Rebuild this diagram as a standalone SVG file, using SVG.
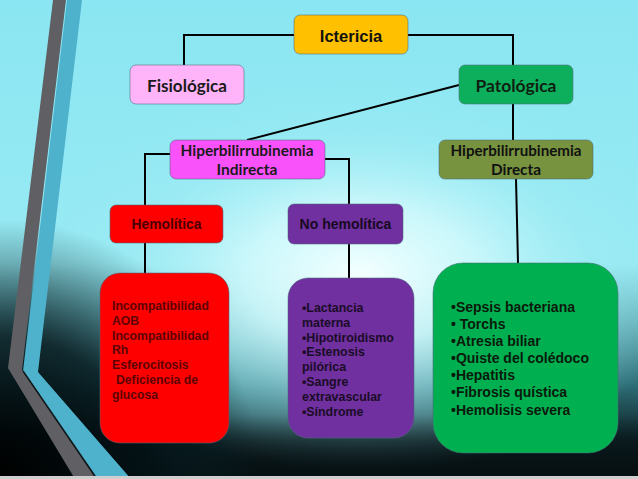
<svg xmlns="http://www.w3.org/2000/svg" width="638" height="479" viewBox="0 0 638 479">
<defs>
<linearGradient id="bg" x1="0" y1="0" x2="0" y2="1">
<stop offset="0" stop-color="#8ae6f2"/>
<stop offset="0.55" stop-color="#98eaf3"/>
<stop offset="0.8" stop-color="#2f7079"/>
<stop offset="0.92" stop-color="#0c1f23"/>
<stop offset="1" stop-color="#060e10"/>
</linearGradient>
<radialGradient id="glow" cx="360" cy="275" r="330" gradientUnits="userSpaceOnUse" gradientTransform="matrix(1 0 0 0.6 0 110)">
<stop offset="0" stop-color="#f4ffff" stop-opacity="1"/>
<stop offset="0.35" stop-color="#d0f9fc" stop-opacity="0.9"/>
<stop offset="0.7" stop-color="#a0ecf4" stop-opacity="0.45"/>
<stop offset="1" stop-color="#98eaf3" stop-opacity="0"/>
</radialGradient>
<radialGradient id="dark" cx="0" cy="479" r="260" gradientUnits="userSpaceOnUse">
<stop offset="0" stop-color="#000000" stop-opacity="1"/>
<stop offset="0.55" stop-color="#021014" stop-opacity="0.8"/>
<stop offset="1" stop-color="#0a2a30" stop-opacity="0"/>
</radialGradient>
<linearGradient id="bot" x1="0" y1="0" x2="0" y2="1">
<stop offset="0" stop-color="#061012" stop-opacity="0"/>
<stop offset="1" stop-color="#061012" stop-opacity="0.85"/>
</linearGradient>
<style>
.box{stroke:#4a6a78;stroke-opacity:0.55;stroke-width:1}
.c{fill:none;stroke:#000;stroke-width:2}
.cal{font-family:Lato,"Liberation Sans",sans-serif;font-weight:bold;text-anchor:middle}
.ar{font-family:"Liberation Sans",Arial,sans-serif;font-weight:bold}
</style>
</defs>
<rect width="638" height="479" fill="url(#bg)"/>
<rect width="638" height="479" fill="url(#glow)"/>
<rect y="415" width="638" height="64" fill="url(#bot)"/>
<rect width="638" height="479" fill="url(#dark)"/>
<polygon points="53,0 66,0 22,370 96,479 75,479 8,368" fill="#606064"/>
<polygon points="67,0 82,0 38,372 131,479 97,479 23,371" fill="#4fb2cd"/>
<line x1="23" y1="371" x2="97" y2="479" stroke="#10181a" stroke-width="1.5"/>
<rect x="0" y="476" width="638" height="3" fill="#cfcfcf"/>

<g id="connectors">
<polyline class="c" points="294,35 184,35 184,65"/>
<polyline class="c" points="408,35 513,35 513,65"/>
<line class="c" x1="459" y1="85" x2="247" y2="140"/>
<line class="c" x1="513" y1="104" x2="513" y2="140"/>
<polyline class="c" points="170,154 145,154 145,205"/>
<polyline class="c" points="325,159 349,159 349,204"/>
<line class="c" x1="145" y1="243" x2="145" y2="273"/>
<line class="c" x1="349" y1="244" x2="349" y2="278"/>
<line class="c" x1="516" y1="179" x2="518" y2="263"/>
</g>

<g id="ictericia">
<rect class="box" x="294" y="15" width="114" height="39" rx="6" fill="#ffc000" stroke="#b08000"/>
<text class="ar" x="351" y="42" font-size="16.5" text-anchor="middle" fill="#111">Ictericia</text>
</g>
<g id="fisiologica">
<rect class="box" x="130" y="65" width="114" height="39" rx="6" fill="#ffb3f8"/>
<text class="cal" x="187" y="92" font-size="17" textLength="80" lengthAdjust="spacingAndGlyphs" fill="#1a1a1a">Fisiológica</text>
</g>
<g id="patologica">
<rect class="box" x="459" y="65" width="114" height="39" rx="6" fill="#0eaf5c"/>
<text class="cal" x="516" y="92" font-size="17" textLength="81" lengthAdjust="spacingAndGlyphs" fill="#0f1f12">Patológica</text>
</g>
<g id="hiper-indirecta">
<rect class="box" x="170" y="140" width="155" height="39" rx="6" fill="#fa52fa"/>
<text class="cal" x="247" y="155.5" font-size="14.5" textLength="133" lengthAdjust="spacingAndGlyphs" fill="#1a1a1a">Hiperbilirrubinemia</text>
<text class="cal" x="247" y="175" font-size="14.5" textLength="61" lengthAdjust="spacingAndGlyphs" fill="#1a1a1a">Indirecta</text>
</g>
<g id="hiper-directa">
<rect class="box" x="439" y="140" width="154" height="39" rx="6" fill="#789340"/>
<text class="cal" x="516" y="155.5" font-size="14.5" textLength="131" lengthAdjust="spacingAndGlyphs" fill="#111">Hiperbilirrubinemia</text>
<text class="cal" x="516" y="175" font-size="14.5" textLength="50" lengthAdjust="spacingAndGlyphs" fill="#111">Directa</text>
</g>
<g id="hemolitica">
<rect class="box" x="110" y="205" width="113" height="38" rx="6" fill="#ff0000"/>
<text class="ar" x="166.5" y="229" font-size="13.8" text-anchor="middle" fill="#4a0000">Hemolítica</text>
</g>
<g id="no-hemolitica">
<rect class="box" x="288" y="204" width="115" height="40" rx="6" fill="#7030a0"/>
<text class="ar" x="345.5" y="229" font-size="14" text-anchor="middle" fill="#160a22">No hemolítica</text>
</g>
<g id="hemoliticas-lista">
<rect class="box" x="100" y="273" width="129" height="170" rx="20" fill="#ff0000"/>
<g class="ar" font-size="12.2" fill="#5c0404">
<text x="112" y="310">Incompatibilidad</text>
<text x="112" y="324.8">AOB</text>
<text x="112" y="339.6">Incompatibilidad</text>
<text x="112" y="354.4">Rh</text>
<text x="112" y="369.2">Esferocitosis</text>
<text x="116" y="384">Deficiencia de</text>
<text x="112" y="398.8">glucosa</text>
</g>
</g>
<g id="no-hemoliticas-lista">
<rect class="box" x="288" y="278" width="126" height="160" rx="20" fill="#7030a0"/>
<g class="ar" font-size="12.4" fill="#1a0c26">
<text x="302" y="312">•Lactancia</text>
<text x="302" y="326.8">materna</text>
<text x="302" y="341.6">•Hipotiroidismo</text>
<text x="302" y="356.4">•Estenosis</text>
<text x="302" y="371.2">pilórica</text>
<text x="302" y="386">•Sangre</text>
<text x="302" y="400.8">extravascular</text>
<text x="302" y="415.6">•Síndrome</text>
</g>
</g>
<g id="directa-lista">
<rect class="box" x="433" y="263" width="185" height="190" rx="30" fill="#00b050"/>
<g class="ar" font-size="14" fill="#0a1a0c">
<text x="451" y="312">•Sepsis bacteriana</text>
<text x="451" y="329">• Torchs</text>
<text x="451" y="346">•Atresia biliar</text>
<text x="451" y="363">•Quiste del colédoco</text>
<text x="451" y="380">•Hepatitis</text>
<text x="451" y="397">•Fibrosis quística</text>
<text x="451" y="414.5">•Hemolisis severa</text>
</g>
</g>
</svg>
